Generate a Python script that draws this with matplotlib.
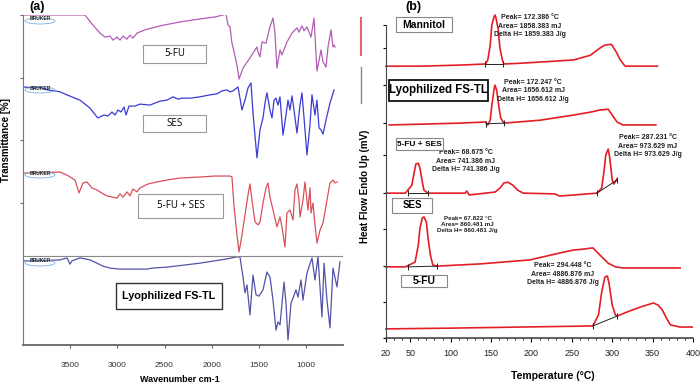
import matplotlib
matplotlib.use('Agg')
import matplotlib.pyplot as plt
from matplotlib.patches import Rectangle, Ellipse
from matplotlib.lines import Line2D

# ---------------- FTIR data (panel a) ----------------
fu_wn = [4000, 3343, 3269, 3184, 3131, 3078, 3046, 3004, 2972, 2940, 2898, 2866, 2834, 2792, 2707, 2548, 2336, 2124,
         1965, 1880, 1848, 1827, 1806, 1785, 1774, 1732, 1710, 1668, 1594, 1541, 1520, 1509, 1488, 1467, 1424, 1382,
         1350, 1329, 1308, 1276, 1255, 1202, 1149, 1117, 1096, 1074, 1043, 1021, 990, 947, 915, 884, 841, 820, 788,
         767, 735, 714, 703, 693]
fu_t = [100, 100, 97.3, 94.5, 93.3, 93.6, 92.4, 93.3, 92.4, 93.6, 92.7, 93.9, 93.0, 94.5, 95.5, 96.7, 97.9, 98.8,
        99.4, 100, 100.3, 97.0, 96.4, 91.5, 90.3, 84.8, 80.6, 83.9, 87.0, 89.4, 90.3, 88.8, 87.3, 91.8, 91.5, 96.4,
        99.1, 94.5, 83.9, 89.4, 87.9, 91.8, 94.5, 95.5, 96.1, 94.8, 96.7, 95.2, 96.4, 93.3, 99.1, 83.0, 89.4, 85.8, 84.2,
        90.3, 95.5, 90.3, 90.9, 90.3]

ses_wn = [4000, 3873, 3820, 3746, 3661, 3608, 3534, 3449, 3396, 3290, 3216, 3205, 3141, 3099, 3057, 3025, 2993, 2961,
          2929, 2908, 2876, 2813, 2760, 2654, 2548, 2474, 2410, 2357, 2315, 2230, 2124, 2018, 1944, 1891, 1838, 1806,
          1774, 1721, 1700, 1679, 1647, 1615, 1583, 1562, 1520, 1488, 1456, 1435, 1414, 1382, 1361, 1339, 1318, 1297,
          1276, 1244, 1212, 1191, 1170, 1149, 1127, 1096, 1064, 1043, 1021, 990, 958, 937, 905, 884, 862, 841, 820,
          788, 746, 703]
ses_t = [78.2, 77.9, 78.2, 77.3, 77.0, 76.7, 75.8, 74.8, 74.2, 71.8, 69.1, 68.8, 69.7, 69.4, 70.6, 69.7, 71.2, 70.6,
         72.1, 69.7, 72.4, 72.4, 73.0, 72.7, 73.9, 74.2, 75.2, 74.5, 74.8, 74.8, 75.2, 75.8, 76.1, 77.0, 77.3, 76.7,
         77.0, 78.2, 74.8, 71.2, 74.2, 77.9, 79.4, 70.3, 56.7, 65.2, 68.8, 73.3, 76.4, 71.2, 68.8, 74.2, 74.8, 72.7,
         75.2, 63.6, 69.7, 74.2, 71.2, 75.5, 71.2, 64.2, 72.7, 76.4, 68.8, 57.6, 66.7, 75.8, 69.7, 74.2, 65.8, 65.2, 63.9,
         68.2, 73.3, 77.3]

mix_wn = [4000, 3608, 3534, 3449, 3406, 3364, 3322, 3269, 3216, 3152, 3110, 3046, 3004, 2972, 2940, 2898, 2866, 2834,
          2792, 2760, 2675, 2580, 2474, 2336, 2124, 1965, 1806, 1785, 1764, 1732, 1710, 1679, 1647, 1615, 1594, 1573,
          1541, 1509, 1488, 1456, 1424, 1403, 1382, 1350, 1308, 1276, 1255, 1223, 1202, 1170, 1138, 1117, 1096, 1074,
          1064, 1032, 1011, 979, 958, 947, 926, 905, 884, 852, 820, 778, 746, 714, 693, 672]
mix_t = [52.1, 52.4, 51.5, 50.0, 46.1, 49.1, 49.4, 47.6, 47.0, 45.8, 45.2, 44.8, 44.5, 45.8, 44.8, 46.4, 45.2, 47.3,
         46.4, 47.6, 48.8, 49.4, 50.0, 50.6, 50.9, 51.2, 51.2, 50.9, 42.4, 33.3, 28.2, 33.3, 39.4, 45.5, 48.8, 43.9,
         37.3, 36.4, 37.3, 43.0, 47.6, 49.1, 44.8, 40.9, 35.8, 38.8, 35.8, 29.7, 40.0, 40.9, 37.9, 47.0, 48.8, 43.9,
         38.8, 43.9, 49.4, 40.9, 47.6, 40.0, 43.0, 36.4, 30.9, 34.8, 37.0, 43.9, 49.1, 50.0, 49.1, 49.4]

lyo_wn = [4000, 3820, 3608, 3534, 3523, 3502, 3481, 3396, 3290, 3216, 3152, 3078, 2972, 2834, 2686, 2633, 2474, 2124,
          1838, 1732, 1700, 1668, 1647, 1626, 1594, 1562, 1530, 1499, 1456, 1414, 1382, 1350, 1318, 1297, 1276, 1233,
          1212, 1191, 1159, 1138, 1106, 1085, 1053, 1032, 990, 937, 905, 873, 831, 809, 778, 746, 714, 672, 640]
lyo_t = [25.5, 25.5, 25.8, 26.4, 25.8, 24.5, 25.5, 26.4, 25.8, 24.8, 23.9, 23.3, 23.0, 23.0, 23.0, 23.3, 23.6, 24.8,
         26.1, 26.7, 26.7, 20.6, 15.8, 18.2, 9.1, 21.2, 15.2, 14.8, 16.7, 22.1, 20.6, 13.6, 4.5, 7.0, 6.1, 19.1,
         12.7, 1.5, 12.7, 14.2, 16.7, 14.5, 19.7, 13.6, 21.8, 26.4, 19.7, 26.7, 8.5, 24.8, 13.6, 5.2, 23.3, 17.6, 25.2]

ftir_ticks = [3500, 3000, 2500, 2000, 1500, 1000]

# ---------------- DSC data (panel b) ----------------
man_T = [20, 62, 112, 143, 146, 149, 151, 154, 155, 156, 159, 161, 164, 166, 186, 252, 273, 285, 291, 299, 305, 310, 316, 356]
man_v = [7.45, 7.45, 7.48, 7.51, 7.62, 8.03, 8.58, 8.82, 8.85, 8.79, 8.44, 7.95, 7.62, 7.51, 7.53, 7.62, 7.75, 7.95,
         8.03, 8.05, 7.84, 7.62, 7.45, 7.45]

lyo_T = [24, 62, 112, 143, 146, 149, 151, 154, 155, 157, 160, 162, 166, 211, 252, 273, 285, 295, 300, 306, 313, 354]
lyo_v = [5.84, 5.86, 5.89, 5.92, 5.84, 5.97, 6.38, 6.85, 6.93, 6.79, 6.30, 6.03, 5.89, 5.97, 6.11, 6.19, 6.25, 6.27,
         6.11, 5.92, 5.84, 5.84]

mix_T = [20, 44, 52, 55, 57, 60, 62, 65, 67, 72, 118, 120, 123, 155, 161, 166, 171, 177, 183, 190, 229, 235, 281,
         287, 290, 292, 295, 297, 300, 302, 306]
mix_v = [3.97, 3.97, 4.19, 4.55, 4.77, 4.79, 4.66, 4.27, 4.05, 3.97, 3.97, 4.03, 3.92, 4.00, 4.11, 4.25, 4.27, 4.19,
         4.05, 3.97, 3.95, 3.89, 3.97, 4.11, 4.60, 5.01, 5.18, 4.93, 4.33, 4.22, 4.36]

ses_T = [20, 44, 56, 60, 62, 65, 67, 70, 72, 75, 78, 83, 136, 198, 235, 252, 266, 276, 285, 295, 304, 313, 384]
ses_v = [1.95, 1.95, 2.08, 2.55, 3.01, 3.29, 3.32, 3.18, 2.74, 2.27, 2.00, 1.97, 2.03, 2.14, 2.33, 2.41, 2.44, 2.47,
         2.27, 2.05, 1.95, 1.92, 1.92]

fu_T = [20, 99, 186, 276, 283, 287, 291, 294, 296, 300, 304, 306, 318, 335, 351, 357, 362, 367, 372, 384, 399]
fu_v = [0.25, 0.27, 0.30, 0.33, 0.63, 1.26, 1.67, 1.70, 1.51, 0.90, 0.63, 0.60, 0.71, 0.85, 0.96, 0.90, 0.77, 0.55,
        0.36, 0.30, 0.30]

# integration baselines (T0, T1, v0, v1)
base_T0 = [143, 144, 47, 281, 47, 276]
base_T1 = [165, 166, 72, 306, 83, 306]
base_v0 = [7.51, 5.87, 3.97, 3.97, 1.95, 0.33]
base_v1 = [7.51, 5.89, 3.97, 4.33, 1.97, 0.60]

dsc_ticks = [20, 50, 100, 150, 200, 250, 300, 350, 400]

annot_text = ["Peak= 172.386 \u00b0C\nArea= 1858.383 mJ\nDelta H= 1859.383 J/g",
              "Peak= 172.247 \u00b0C\nArea= 1656.612 mJ\nDelta H= 1656.612 J/g",
              "Peak= 68.675 \u00b0C\nArea= 741.386 mJ\nDelta H= 741.386 J/g",
              "Peak= 287.231 \u00b0C\nArea= 973.629 mJ\nDelta H= 973.629 J/g",
              "Peak= 67.822 \u00b0C\nArea= 860.481 mJ\nDelta H= 860.481 J/g",
              "Peak= 294.448 \u00b0C\nArea= 4886.876 mJ\nDelta H= 4886.876 J/g"]

# ---------------- figure ----------------
W, H = 700, 385
fig = plt.figure(figsize=(7, 3.85), dpi=100)
ARIAL = ['Liberation Sans', 'DejaVu Sans']
OPEN = ['Open Sans', 'DejaVu Sans']

def fx(x):
    return x / W

def fy(y):
    return 1 - y / H

def box(x0, y0, x1, y1, text, fs, weight='bold', ec='#999999', lw=0.8, family=None):
    fig.patches.append(Rectangle((fx(x0), fy(y1)), fx(x1) - fx(x0), fy(y0) - fy(y1),
                                 transform=fig.transFigure, fill=True, fc='white', ec=ec, lw=lw, zorder=5))
    fig.text(fx((x0 + x1) / 2), fy((y0 + y1) / 2), text, ha='center', va='center', fontsize=fs,
             fontweight=weight, family=family or ARIAL, zorder=6)

# ---- panel (a) ----
axA = fig.add_axes([fx(23), fy(345), fx(343) - fx(23), fy(15) - fy(345)])
axA.plot(fu_wn, fu_t, color='#b35db5', lw=0.9)
axA.plot(ses_wn, ses_t, color='#3b3bd6', lw=0.9)
axA.plot(mix_wn, mix_t, color='#d9505a', lw=0.9)
axA.plot(lyo_wn, lyo_t, color='#5252a8', lw=0.9)
axA.axhline(27.0, color='#8a8a8a', lw=0.8)
axA.set_xlim(4000, 608)
axA.set_ylim(0, 100)
axA.set_xticks(ftir_ticks)
axA.set_xticklabels([str(t) for t in ftir_ticks], family=ARIAL, fontsize=6, color='#333333')
axA.set_yticks([100, 81, 62, 43])
axA.set_yticklabels([])
axA.tick_params(axis='x', length=2, width=0.8, color='#666666', pad=10)
axA.tick_params(axis='y', length=2, width=0.8, color='#666666')
for s in ['top', 'right']:
    axA.spines[s].set_visible(False)
axA.spines['left'].set_color('#777777')
axA.spines['bottom'].set_color('#666666')
axA.spines['bottom'].set_linewidth(1.3)
axA.patch.set_alpha(0)

# bruker logos
for yp in [19, 88, 173, 261]:
    fig.patches.append(Ellipse((fx(40), fy(yp + 2)), fx(30), 6 / H, transform=fig.transFigure,
                               fill=False, ec='#7fb0e0', lw=0.6, zorder=3))
    fig.text(fx(40), fy(yp), 'BRUKER', ha='center', va='center', fontsize=3.6, fontweight='bold',
             color='#222222', family=ARIAL, zorder=4)

box(143, 45, 206, 63, '5-FU', 7, weight='normal', family=OPEN)
box(143, 115, 206, 132, 'SES', 7, weight='normal', family=OPEN)
box(138, 194, 223, 218, '5-FU + SES', 7, weight='normal', family=OPEN)
box(116, 283, 222, 309, 'Lyophilized FS-TL', 7.8, ec='#333333', lw=1.0)

fig.text(fx(6), fy(140), 'Transmittance [%]', rotation=90, ha='center', va='center', fontsize=7,
         fontweight='bold', family=ARIAL)
fig.text(fx(180), fy(380), 'Wavenumber cm-1', ha='center', va='center', fontsize=6.5, fontweight='bold',
         family=ARIAL)
fig.text(fx(37), fy(7), '(a)', ha='center', va='center', fontsize=9, fontweight='bold', family=ARIAL)

# legend remnants between the panels
fig.add_artist(Line2D([fx(361), fx(361)], [fy(18), fy(55)], color='#e8606a', lw=1.5))
fig.add_artist(Line2D([fx(361), fx(361)], [fy(67), fy(103)], color='#888888', lw=1.0))

# ---- panel (b) ----
axB = fig.add_axes([fx(386), fy(338), fx(693) - fx(386), fy(10) - fy(338)])
red = '#e41e26'
for T, v in [(man_T, man_v), (lyo_T, lyo_v), (mix_T, mix_v), (ses_T, ses_v), (fu_T, fu_v)]:
    axB.plot(T, v, color=red, lw=1.2, clip_on=False)
for t0, t1, v0, v1 in zip(base_T0, base_T1, base_v0, base_v1):
    axB.plot([t0, t1], [v0, v1], color='#222222', lw=0.7, marker='|', ms=4, mew=0.7)
axB.set_xlim(20, 400)
axB.set_ylim(0, 8.99)
axB.spines['left'].set_bounds(0, 8.58)
for s in ['top', 'right']:
    axB.spines[s].set_visible(False)
axB.spines['left'].set_color('#444444')
axB.spines['bottom'].set_color('#444444')
axB.spines['bottom'].set_linewidth(1.2)
axB.set_xticks(dsc_ticks)
axB.set_xticks(range(30, 400, 10), minor=True)
axB.set_xticklabels([str(t) for t in dsc_ticks], family=ARIAL, fontsize=6.5, color='#222222')
axB.set_yticks([0, 0.99, 1.97, 2.99, 3.97, 5.01, 5.89, 6.93, 7.95, 8.58])
axB.set_yticklabels([])
axB.tick_params(axis='x', which='major', length=3, width=0.8, pad=5)
axB.tick_params(axis='x', which='minor', length=1.5, width=0.6)
axB.tick_params(axis='y', length=2, width=0.8)
axB.patch.set_alpha(0)

annot_T = [198, 202, 119, 344, 121, 239]
annot_v = [8.55, 6.77, 4.85, 5.26, 3.12, 1.75]
annot_fs = [5, 5, 5, 5, 4.5, 5]
for txt, t, v, fs in zip(annot_text, annot_T, annot_v, annot_fs):
    axB.text(t, v, txt, ha='center', va='center', fontsize=fs, fontweight='bold', family=ARIAL,
             linespacing=1.25, color='#222222')

box(396, 17, 452, 32, 'Mannitol', 7.5, ec='#888888')
box(389, 80, 488, 101, 'Lyophilized FS-TL', 8.3, ec='#111111', lw=1.3)
box(396, 138, 443, 150, '5-FU + SES', 6, ec='#888888')
box(392, 198, 432, 213, 'SES', 7, ec='#888888')
box(401, 275, 447, 287, '5-FU', 7.5, ec='#888888')

fig.text(fx(365), fy(186), 'Heat Flow Endo Up (mV)', rotation=90, ha='center', va='center', fontsize=7,
         fontweight='bold', family=ARIAL)
fig.text(fx(553), fy(376), 'Temperature (\u00b0C)', ha='center', va='center', fontsize=7.5, fontweight='bold',
         family=ARIAL)
fig.text(fx(413), fy(7), '(b)', ha='center', va='center', fontsize=9, fontweight='bold', family=ARIAL)

fig.savefig('out.png', dpi=100)
